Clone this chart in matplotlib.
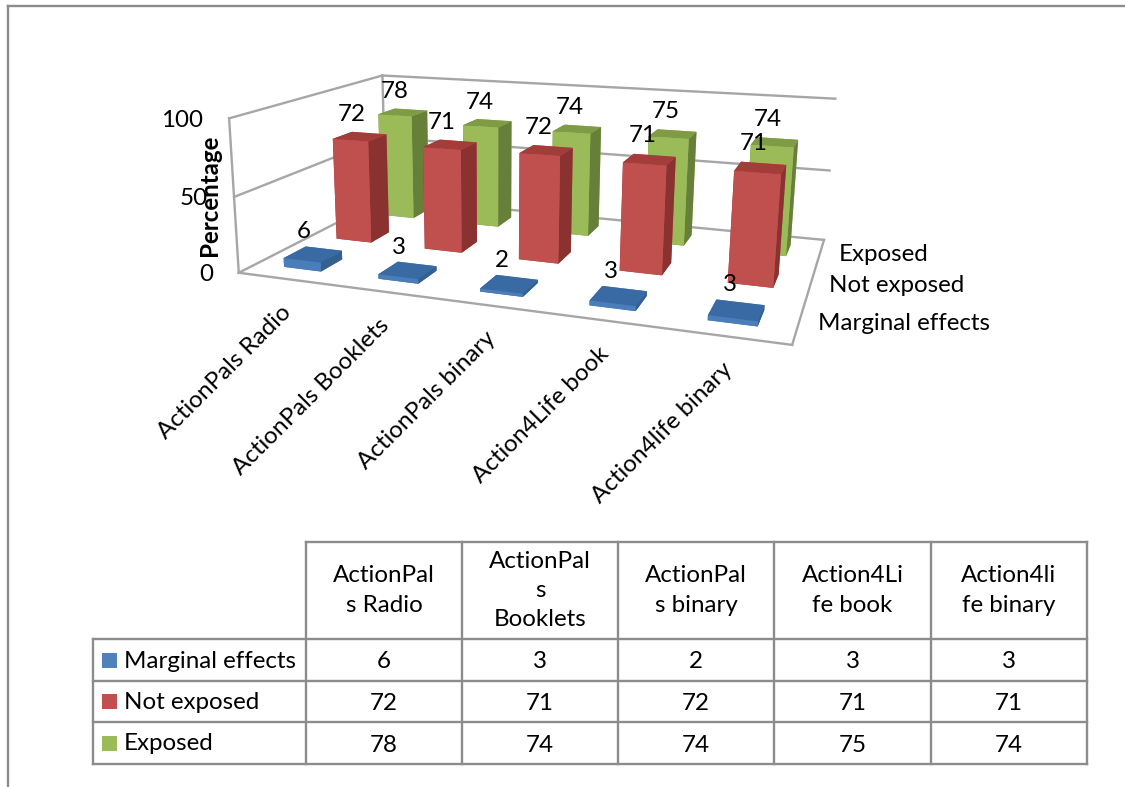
import numpy as np
import matplotlib
matplotlib.use("Agg")
import matplotlib.pyplot as plt
from matplotlib.patches import Rectangle
from mpl_toolkits.mplot3d import Axes3D  # noqa: F401

plt.rcParams["font.family"] = ["Lato", "DejaVu Sans"]

WIDTH, HEIGHT = 1125, 787

categories = ["ActionPals Radio", "ActionPals Booklets", "ActionPals binary",
              "Action4Life book", "Action4life binary"]
table_headers = [["ActionPal", "s Radio"], ["ActionPal", "s", "Booklets"],
                 ["ActionPal", "s binary"], ["Action4Li", "fe book"],
                 ["Action4li", "fe binary"]]
series_names = ["Marginal effects", "Not exposed", "Exposed"]
marginal = [6, 3, 2, 3, 3]
not_exposed = [72, 71, 72, 71, 71]
exposed = [78, 74, 74, 75, 74]
series_values = [marginal, not_exposed, exposed]
y_ticks = [0, 50, 100]

# face colours for each series: front, top, side
front_colors = ["#4A7EBB", "#C0504D", "#9BBB59"]
top_colors = ["#3A6AA3", "#A23D3A", "#7F9B45"]
side_colors = ["#33608F", "#8A3230", "#66803A"]
key_colors = ["#4F81BD", "#C0504D", "#9BBB59"]
grid_color = "#A6A6A6"
rule_color = "#8C8C8C"

BAR_W = 0.40
BAR_D = 0.40
FONT_SIZE = 17.4

# Perspective camera: world (category, series, value) to pixel anchors of the box
world_anchor = np.array([
    (0, 0, 0), (0, 3, 0), (5, 3, 0), (5, 0, 0),
    (0, 0, 50), (0, 3, 50), (5, 3, 50),
    (0, 0, 100), (0, 3, 100), (5, 3, 100)], float)
pixel_anchor = np.array([
    (239, 273), (385, 198), (824, 240), (792, 345),
    (235, 197), (384, 137), (830, 170),
    (228, 118), (383, 76), (835, 99)], float)


def fit_camera(world, pixel):
    rows = []
    for (x, y, z), (u, v) in zip(world, pixel):
        p = [x, y, z, 1]
        rows.append(p + [0, 0, 0, 0] + [-u * c for c in p])
        rows.append([0, 0, 0, 0] + p + [-v * c for c in p])
    _, _, vt = np.linalg.svd(np.array(rows))
    return vt[-1].reshape(3, 4)


camera = fit_camera(world_anchor, pixel_anchor)


def project(x, y, z):
    u, v, w = camera @ np.array([x, y, z, 1.0])
    return u / w, v / w


def pixel_axes(zorder):
    a = fig.add_axes([0, 0, 1, 1], zorder=zorder)
    a.set_xlim(0, WIDTH)
    a.set_ylim(HEIGHT, 0)
    a.axis("off")
    a.patch.set_visible(False)
    return a


fig = plt.figure(figsize=(WIDTH / 100, HEIGHT / 100), dpi=100)
back = pixel_axes(-1)
ov = pixel_axes(5)

ax = fig.add_axes([0, 0, 1, 1], projection="3d", computed_zorder=False, zorder=1)
ax.set_axis_off()
ax.set_xlim(0, 5)
ax.set_ylim(0, 3)
ax.set_zlim(0, 100)
ax.patch.set_visible(False)


def custom_proj():
    # maps world coordinates to the 2D data space of the 3D axes via figure pixels
    ax.apply_aspect()
    inv = ax.transData.inverted().get_matrix()
    to_display = np.array([[1, 0, 0], [0, -1, HEIGHT], [0, 0, 1]], float)
    h = inv @ to_display @ camera
    if h[2, 3] < 0:
        h = -h
    depth = np.array([-0.004, 0.1, -0.0002, 0.0]) * h[2, 3]
    return np.vstack([h[0], h[1], depth, h[2]])


ax.get_proj = custom_proj

# wall and floor outline
box_edges = [
    ((0, 0, 0), (0, 3, 0)), ((0, 3, 0), (5, 3, 0)), ((5, 3, 0), (5, 0, 0)), ((5, 0, 0), (0, 0, 0)),
    ((0, 0, 100), (0, 3, 100)), ((0, 3, 100), (5, 3, 100)),
    ((0, 0, 0), (0, 0, 100)), ((0, 3, 0), (0, 3, 100)),
]
for a, b in box_edges:
    pa, pb = project(*a), project(*b)
    back.plot([pa[0], pb[0]], [pa[1], pb[1]], color=grid_color, lw=1.7)
for t in y_ticks[1:-1]:
    pts = [project(0, 0, t), project(0, 3, t), project(5, 3, t)]
    back.plot(*zip(*pts), color=grid_color, lw=1.7)

# bars, back row first
for s in (2, 1, 0):
    for c, v in enumerate(series_values[s]):
        faces = [top_colors[s], top_colors[s], front_colors[s],
                 front_colors[s], side_colors[s], side_colors[s]]
        ax.bar3d(c + 0.5 - BAR_W / 2, s + 0.5 - BAR_D / 2, 0,
                 BAR_W, BAR_D, v, color=faces, shade=False,
                 edgecolor="none", zorder=10 - s)

# value labels sit above each bar
for s in range(3):
    for c, v in enumerate(series_values[s]):
        px, py = project(c + 0.5, s + 0.5, v + 13)
        ov.text(px - 8, py - 3.5, str(v), ha="center", va="center",
                fontsize=FONT_SIZE, color="black")

for t in y_ticks:
    px, py = project(0, 0, t)
    ov.text(px - 26, py + 2, str(t), ha="right", va="center", fontsize=FONT_SIZE)

# category labels hang from the front edge
for c, name in enumerate(categories):
    px, py = project(c + 0.5, 0, 0)
    ov.text(px + 3, py + 30, name, rotation=45, rotation_mode="anchor",
            ha="right", va="center", fontsize=FONT_SIZE)

# series labels beside the right edge of the floor
for s, name in enumerate(series_names):
    px, py = project(5, s + 0.5, 0)
    ov.text(px + 19, py + 1, name, ha="left", va="center", fontsize=FONT_SIZE)

ov.plot([8, 8], [6, HEIGHT], color=rule_color, lw=1.7)
ov.plot([8, WIDTH], [6, 6], color=rule_color, lw=1.7)

ov.text(209.5, 195, "Percentage", rotation=90, ha="center", va="center",
        fontsize=FONT_SIZE, fontweight="bold")

# data table under the chart
col_x = [93, 306, 462, 618, 774, 931, 1087]
row_y = [542, 639, 681, 722, 764]
ov.plot([col_x[1], col_x[-1]], [row_y[0]] * 2, color=rule_color, lw=1.7)
for y in row_y[1:]:
    ov.plot([col_x[0], col_x[-1]], [y, y], color=rule_color, lw=1.7)
ov.plot([col_x[0]] * 2, [row_y[1], row_y[-1]], color=rule_color, lw=1.7)
for x in col_x[1:]:
    ov.plot([x, x], [row_y[0], row_y[-1]], color=rule_color, lw=1.7)

for c, lines in enumerate(table_headers):
    cx = (col_x[c + 1] + col_x[c + 2]) / 2
    cy = (row_y[0] + row_y[1]) / 2
    ov.text(cx, cy, "\n".join(lines), ha="center", va="center",
            fontsize=FONT_SIZE, linespacing=1.5)

for s, name in enumerate(series_names):
    cy = (row_y[s + 1] + row_y[s + 2]) / 2
    ov.add_patch(Rectangle((102, cy - 7.5), 15, 15, facecolor=key_colors[s], edgecolor="none"))
    ov.text(124, cy + 1, name, ha="left", va="center", fontsize=FONT_SIZE)
    for c, v in enumerate(series_values[s]):
        ov.text((col_x[c + 1] + col_x[c + 2]) / 2, cy + 2, str(v), ha="center", va="center",
                fontsize=FONT_SIZE)

fig.savefig("out.png", dpi=100)
